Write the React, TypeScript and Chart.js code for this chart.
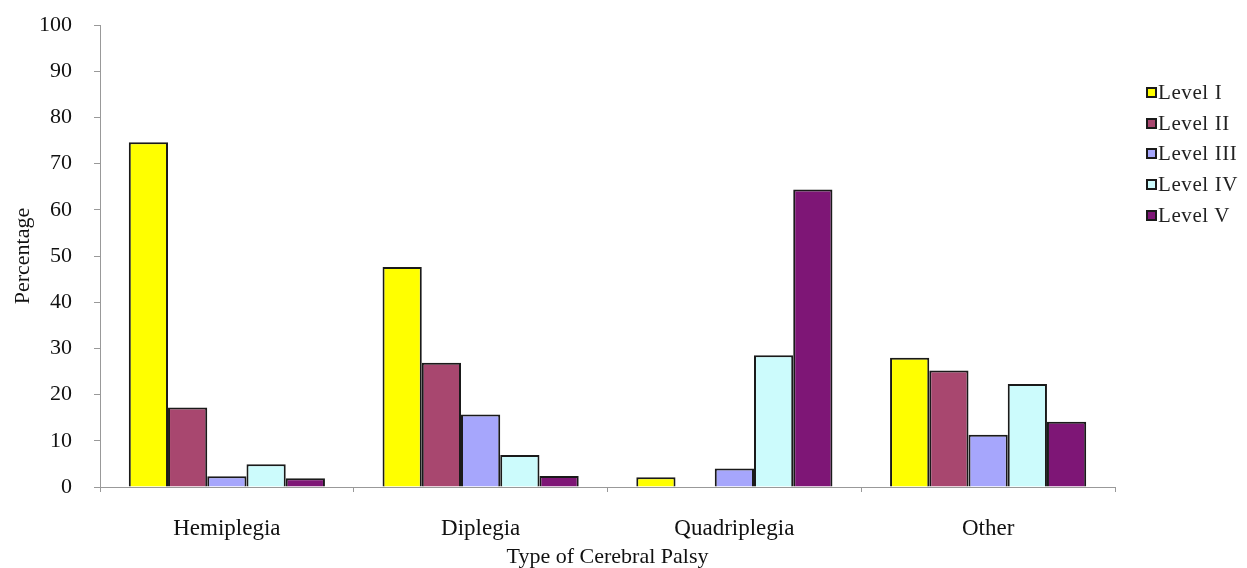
import React, { useEffect, useRef } from "react";
import { Chart, registerables } from "chart.js";

Chart.register(...registerables);

const categories = ["Hemiplegia", "Diplegia", "Quadriplegia", "Other"];
const levelI = [74.6, 47.6, 2.1, 28.0];
const levelII = [17.2, 26.9, 0, 25.2];
const levelIII = [2.3, 15.7, 4.0, 11.3];
const levelIV = [4.9, 6.9, 28.5, 22.3];
const levelV = [1.9, 2.4, 64.4, 14.1];
const seriesNames = ["Level I", "Level II", "Level III", "Level IV", "Level V"];
const seriesColors = ["#FFFF00", "#A8476F", "#A6A6FC", "#CCFBFC", "#7E1676"];
const yTicks = [0, 10, 20, 30, 40, 50, 60, 70, 80, 90, 100];

const FONT = "'Liberation Serif', 'Times New Roman', serif";

export default function App() {
  const ref = useRef<HTMLCanvasElement | null>(null);

  useEffect(() => {
    if (!ref.current) return;
    const values = [levelI, levelII, levelIII, levelIV, levelV];
    const chart = new Chart(ref.current, {
      type: "bar",
      data: {
        labels: categories,
        datasets: seriesNames.map((name, i) => ({
          label: name,
          data: values[i],
          backgroundColor: seriesColors[i],
          borderColor: "#1a1a1a",
          borderWidth: 2,
          barPercentage: 1,
          categoryPercentage: 0.773,
        })),
      },
      options: {
        animation: false,
        responsive: false,
        maintainAspectRatio: false,
        layout: { padding: { left: 0, top: 25, right: 132, bottom: 0 } },
        plugins: { legend: { display: false }, tooltip: { enabled: false } },
        scales: {
          x: {
            offset: true,
            grid: {
              offset: true,
              drawOnChartArea: false,
              tickLength: 5,
              color: "#999999",
            },
            border: { color: "#999999", width: 1 },
            ticks: {
              color: "#111111",
              font: { family: FONT, size: 23 },
              padding: 23,
            },
            title: {
              display: true,
              text: "Type of Cerebral Palsy",
              color: "#111111",
              font: { family: FONT, size: 22 },
              padding: { top: 0, bottom: -2 },
            },
            afterFit: (scale: any) => {
              scale.height = 81;
              scale.paddingLeft = 0;
              scale.paddingRight = 0;
            },
          },
          y: {
            min: 0,
            max: 100,
            afterBuildTicks: (scale: any) => {
              scale.ticks = yTicks.map((v) => ({ value: v }));
            },
            grid: {
              drawOnChartArea: false,
              tickLength: 6,
              color: "#999999",
            },
            border: { color: "#999999", width: 1 },
            ticks: {
              color: "#111111",
              font: { family: FONT, size: 22 },
              padding: 22,
            },
            title: {
              display: true,
              text: "Percentage",
              color: "#111111",
              font: { family: FONT, size: 22 },
              padding: { top: 10, bottom: 0 },
            },
            afterFit: (scale: any) => {
              scale.width = 100;
              scale.paddingTop = 0;
              scale.paddingBottom = 0;
            },
          },
        },
      },
    });
    return () => chart.destroy();
  }, []);

  return (
    <div
      style={{
        position: "absolute",
        left: 0,
        top: 0,
        width: 1247,
        height: 568,
        background: "#ffffff",
      }}
    >
      <canvas ref={ref} width={1247} height={568} style={{ display: "block" }} />
      <div
        style={{
          position: "absolute",
          left: 1146,
          top: 77,
          fontFamily: FONT,
          fontSize: 21,
          letterSpacing: 0.6,
          color: "#222222",
        }}
      >
        {seriesNames.map((name, i) => (
          <div
            key={name}
            style={{ display: "flex", alignItems: "center", height: 30.8, whiteSpace: "nowrap" }}
          >
            <span
              style={{
                display: "inline-block",
                width: 7,
                height: 7,
                background: seriesColors[i],
                border: "2px solid #1a1a1a",
                marginRight: 1,
              }}
            />
            <span>{name}</span>
          </div>
        ))}
      </div>
    </div>
  );
}
